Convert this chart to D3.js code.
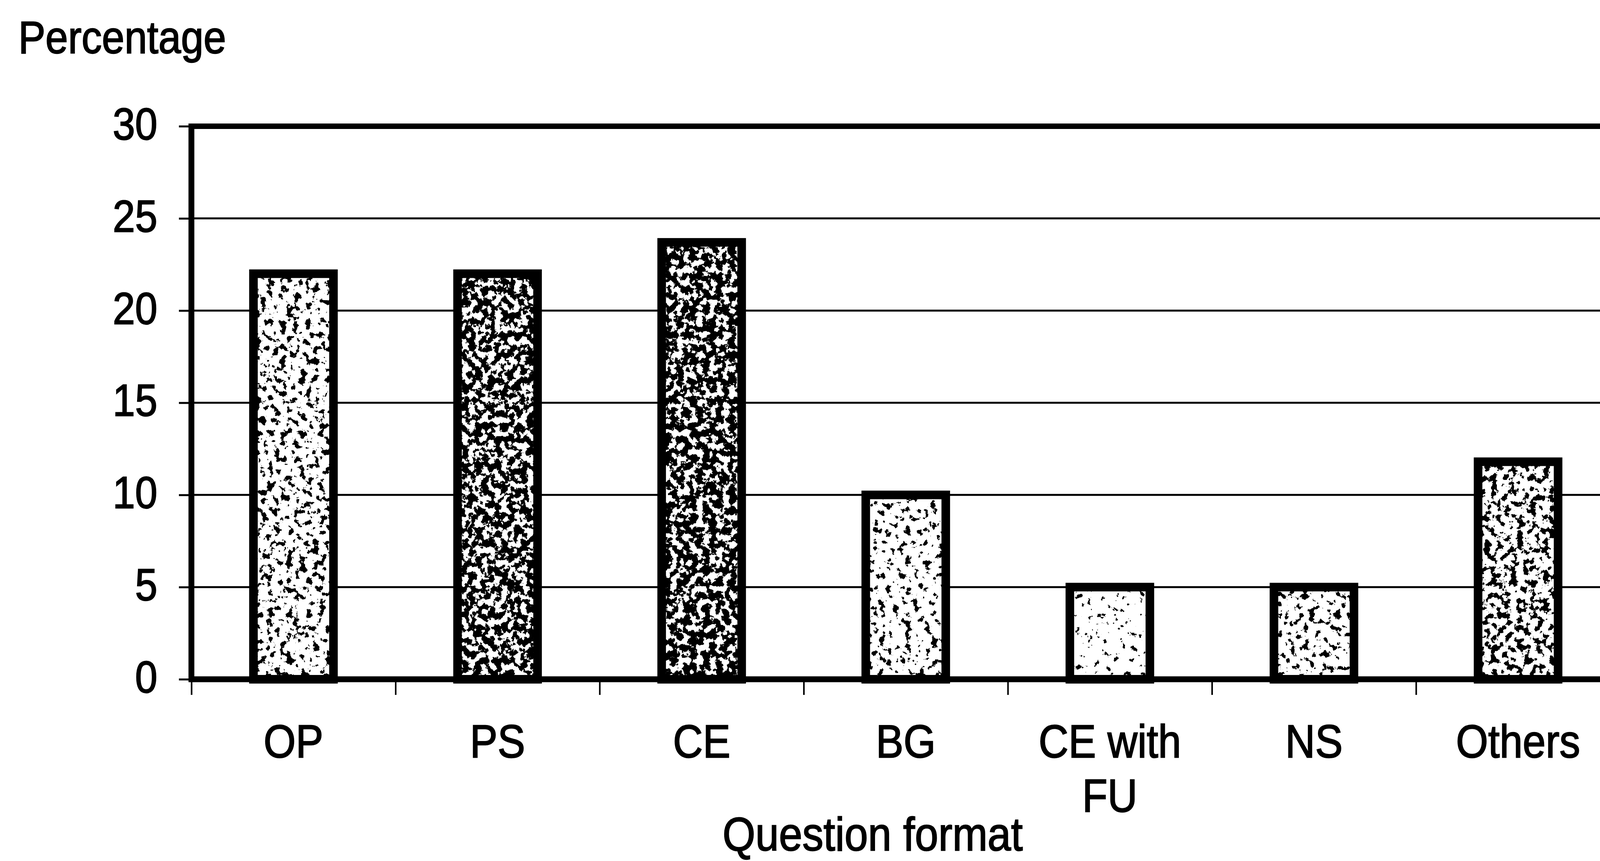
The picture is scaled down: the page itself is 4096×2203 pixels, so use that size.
<!DOCTYPE html>
<html>
<head>
<meta charset="utf-8">
<script src="https://cdn.jsdelivr.net/npm/d3@7"></script>
<style>
  html, body { margin: 0; padding: 0; background: #fff; overflow: hidden; }
  svg { display: block; }
  text { font-family: "Liberation Sans", Arial, sans-serif; fill: #000; stroke: #000; stroke-width: 2.2px; }
</style>
</head>
<body>
<svg id="chart" width="4096" height="2203"></svg>
<script>
// ---- data ----
const categories = ["OP", "PS", "CE", "BG", "CE with FU", "NS", "Others"];
const values = [22, 22, 23.7, 10, 5, 5, 11.8];
const yTicks = [0, 5, 10, 15, 20, 25, 30];
const yTitle = "Percentage";
const xTitle = "Question format";

// ---- style (not data) ----
const speckleThreshold = [0.575, 0.47, 0.46, 0.61, 0.66, 0.60, 0.54];
const STRETCH = 1.12;

const W = 4096, H = 2203;
const left = 490, y0px = 1738, y30px = 323, step = 522.5;
const svg = d3.select("#chart");

const x = d3.scaleBand().domain(categories)
  .range([left, left + step * categories.length]).paddingInner(0).paddingOuter(0);
const y = d3.scaleLinear().domain([0, 30]).range([y0px, y30px]);

// speckle filters
const defs = svg.append("defs");
categories.forEach((c, i) => {
  const f = defs.append("filter").attr("id", "sp" + i)
    .attr("x", 0).attr("y", 0).attr("width", 1).attr("height", 1)
    .attr("color-interpolation-filters", "sRGB");
  f.append("feTurbulence").attr("type", "fractalNoise").attr("baseFrequency", 0.06)
    .attr("numOctaves", 4).attr("seed", i * 7 + 3).attr("result", "n");
  f.append("feColorMatrix").attr("in", "n").attr("type", "matrix")
    .attr("values", "0 0 0 0 0  0 0 0 0 0  0 0 0 0 0  1 0 0 0 0").attr("result", "a");
  const ct = f.append("feComponentTransfer").attr("in", "a").attr("result", "t");
  ct.append("feFuncA").attr("type", "linear").attr("slope", 40).attr("intercept", -40 * speckleThreshold[i]);
  f.append("feComposite").attr("in", "t").attr("in2", "SourceGraphic").attr("operator", "in");
});

// gridlines
svg.append("g").selectAll("line").data(yTicks.filter(t => t > 0 && t < 30)).join("line")
  .attr("x1", left).attr("x2", W + 50)
  .attr("y1", d => y(d)).attr("y2", d => y(d))
  .attr("stroke", "#000").attr("stroke-width", 5);

// bars
const barW = step * 0.392;
const bars = svg.append("g").selectAll("g").data(categories).join("g");
bars.append("rect")
  .attr("x", d => x(d) + (step - barW) / 2)
  .attr("y", (d, i) => y(values[i]))
  .attr("width", barW)
  .attr("height", (d, i) => y(0) - y(values[i]))
  .attr("fill", "#fff");
bars.append("rect")
  .attr("x", d => x(d) + (step - barW) / 2)
  .attr("y", (d, i) => y(values[i]))
  .attr("width", barW)
  .attr("height", (d, i) => y(0) - y(values[i]))
  .attr("fill", "#000")
  .attr("filter", (d, i) => `url(#sp${i})`);
bars.append("rect")
  .attr("x", d => x(d) + (step - barW) / 2)
  .attr("y", (d, i) => y(values[i]))
  .attr("width", barW)
  .attr("height", (d, i) => y(0) - y(values[i]))
  .attr("fill", "none").attr("stroke", "#000").attr("stroke-width", 22);

// y axis
const yAxis = svg.append("g").attr("transform", `translate(${left},0)`)
  .call(d3.axisLeft(y).tickValues(yTicks).tickSize(32).tickPadding(55));
yAxis.select(".domain").remove();
yAxis.selectAll(".tick line").attr("stroke", "#000").attr("stroke-width", 5);
yAxis.selectAll(".tick text")
  .attr("font-size", 103).attr("font-family", "Liberation Sans, Arial, sans-serif")
  .attr("dy", "0.29em").attr("transform", `scale(1,${STRETCH})`);

// frame lines
svg.append("line").attr("x1", left).attr("x2", W + 50).attr("y1", y(30)).attr("y2", y(30))
  .attr("stroke", "#000").attr("stroke-width", 14);
svg.append("line").attr("x1", left).attr("x2", left).attr("y1", y(30) - 7).attr("y2", y(0) + 7)
  .attr("stroke", "#000").attr("stroke-width", 15);

// x axis: boundary ticks
const xb = d3.scaleLinear().domain([0, categories.length]).range([left, left + step * categories.length]);
const xTickAxis = svg.append("g").attr("transform", `translate(0,${y(0)})`)
  .call(d3.axisBottom(xb).tickValues(d3.range(categories.length + 1)).tickSize(40).tickFormat(""));
xTickAxis.select(".domain").remove();
xTickAxis.selectAll(".tick line").attr("stroke", "#000").attr("stroke-width", 4);
svg.append("line").attr("x1", left - 7).attr("x2", W + 50).attr("y1", y(0)).attr("y2", y(0))
  .attr("stroke", "#000").attr("stroke-width", 15);

// category labels
const xAxis = svg.append("g").attr("transform", `translate(0,${y(0)})`)
  .call(d3.axisBottom(x).tickSize(0).tickPadding(0));
xAxis.select(".domain").remove();
xAxis.selectAll(".tick text").each(function(d) {
  const t = d3.select(this);
  t.text(null).attr("y", 0).attr("dy", null)
    .attr("font-size", 106).attr("font-family", "Liberation Sans, Arial, sans-serif")
    .attr("transform", `translate(0,200) scale(1,${STRETCH})`);
  // greedy wrap to band width
  const words = d.split(" ");
  const lines = [];
  let cur = [];
  const probe = t.append("tspan");
  words.forEach(w => {
    const trial = cur.concat([w]).join(" ");
    probe.text(trial);
    if (probe.node().getComputedTextLength() > step && cur.length) {
      lines.push(cur.join(" "));
      cur = [w];
    } else cur.push(w);
  });
  lines.push(cur.join(" "));
  probe.remove();
  lines.forEach((ln, k) => {
    t.append("tspan").attr("x", 0).attr("y", k * 139 / STRETCH).text(ln);
  });
});

// titles
svg.append("text").attr("transform", `translate(47,136) scale(1,${STRETCH})`)
  .attr("font-size", 104).text(yTitle);
svg.append("text").attr("transform", `translate(2234,2176) scale(1,${STRETCH})`)
  .attr("text-anchor", "middle").attr("font-size", 108).text(xTitle);
</script>
</body>
</html>
